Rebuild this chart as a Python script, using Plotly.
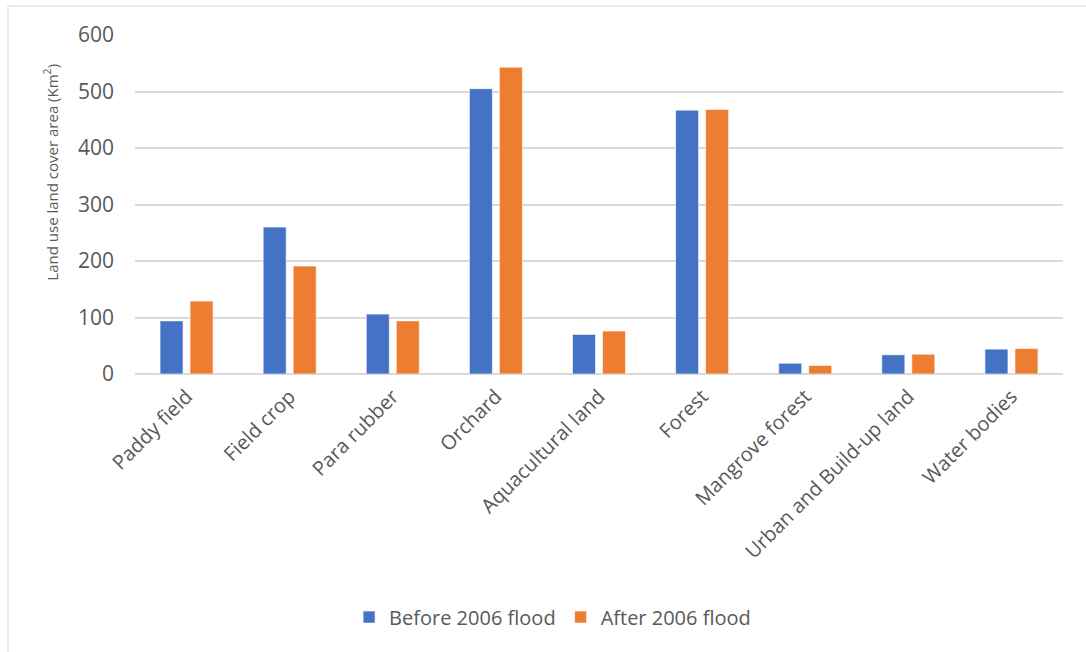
import plotly.graph_objects as go

categories = ["Paddy field", "Field crop", "Para rubber", "Orchard", "Aquacultural land",
              "Forest", "Mangrove forest", "Urban and Build-up land", "Water bodies"]
before_2006 = [94, 260, 106, 505, 70, 467, 19, 34, 44]
after_2006 = [129, 191, 94, 543, 76, 468, 15, 35, 45]
y_ticks = [0, 100, 200, 300, 400, 500, 600]

FONT = "Open Sans"
TEXT = "#595959"

fig = go.Figure()
fig.add_trace(go.Bar(x=categories, y=before_2006, name="Before 2006 flood",
                     marker=dict(color="#4472C4", line=dict(color="rgba(255,255,255,0.6)", width=1))))
fig.add_trace(go.Bar(x=categories, y=after_2006, name="After 2006 flood",
                     marker=dict(color="#ED7D31", line=dict(color="rgba(255,255,255,0.6)", width=1))))

fig.update_layout(
    width=1086, height=652,
    margin=dict(l=135, r=23, t=35, b=278),
    paper_bgcolor="white", plot_bgcolor="white",
    barmode="group", bargap=0.418, bargroupgap=0.233,
    font=dict(family=FONT, color=TEXT),
    showlegend=True,
    legend=dict(orientation="h", x=0.45, xanchor="center", y=-0.717, yanchor="middle",
                font=dict(size=20, color=TEXT), itemwidth=30, traceorder="normal"),
    xaxis=dict(tickangle=-45, tickfont=dict(size=20, color=TEXT), showgrid=False,
               showline=False, ticks="", automargin=False, ticklabelstandoff=6),
    yaxis=dict(range=[0, 600], tickvals=y_ticks, tickfont=dict(size=21, color=TEXT),
               showgrid=True, gridcolor="#D9D9D9", gridwidth=1.5, zeroline=True,
               zerolinecolor="#D9D9D9", zerolinewidth=1.5, ticks="", ticklen=0,
               automargin=False, ticklabelstandoff=20),
    annotations=[dict(text="Land use land cover area (Km<sup>2</sup>)", textangle=-90,
                      xref="paper", yref="paper", x=-0.0905, y=0.594,
                      xanchor="center", yanchor="middle",
                      showarrow=False, font=dict(size=15, color=TEXT, family=FONT))],
    shapes=[dict(type="rect", xref="paper", yref="paper", x0=-0.1369, x1=1.05,
                 y0=-0.85, y1=1.0855, line=dict(color="#D9D9D9", width=1),
                 fillcolor="rgba(0,0,0,0)", layer="below")],
)

fig.write_html("out.html")
